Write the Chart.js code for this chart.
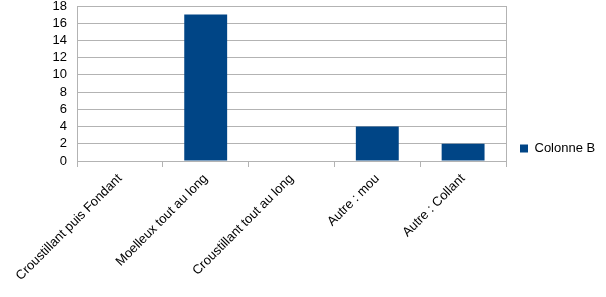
<!DOCTYPE html>
<html>
<head>
<meta charset="utf-8">
<script src="https://cdn.jsdelivr.net/npm/chart.js@4.4.0/dist/chart.umd.min.js"></script>
<style>
  html, body { margin: 0; padding: 0; background: #fff; }
  #chart { display: block; }
</style>
</head>
<body>
<canvas id="chart" width="606" height="297"></canvas>
<script>
// =====================
// Data
// =====================
const categories = [
    'Croustillant puis Fondant',
    'Moelleux tout au long',
    'Croustillant tout au long',
    'Autre : mou',
    'Autre : Collant'
];
const colonneB = [0, 17, 0, 4, 2];
const yTicks = [0, 2, 4, 6, 8, 10, 12, 14, 16, 18];

const gridColor = '#b3b3b3';
const barColor = '#004586';
const fontFamily = '"Liberation Sans", Arial, sans-serif';

// Right border of the plot area (LibreOffice style frame)
const frameRight = {
    id: 'frameRight',
    afterDraw(chart) {
        const { ctx, chartArea } = chart;
        ctx.save();
        ctx.strokeStyle = gridColor;
        ctx.lineWidth = 1;
        ctx.beginPath();
        ctx.moveTo(Math.round(chartArea.right) + 0.5, chartArea.top);
        ctx.lineTo(Math.round(chartArea.right) + 0.5, chartArea.bottom + 6);
        ctx.stroke();
        ctx.restore();
    }
};

// Fix legend width so the plot area ends where the reference does
const legendWidth = {
    id: 'legendWidth',
    beforeLayout(chart) {
        const lg = chart.legend;
        if (lg && !lg._patched) {
            const fit = lg.fit.bind(lg);
            lg.fit = function () { fit(); this.width = 100; };
            lg._patched = true;
        }
    },
    afterLayout(chart) {
        // nudge the legend up a little, like the reference
        const lg = chart.legend;
        if (lg) { lg.top -= 3; lg.bottom -= 3; }
    }
};

const ctx = document.getElementById('chart').getContext('2d');
new Chart(ctx, {
    type: 'bar',
    data: {
        labels: categories,
        datasets: [{
            label: 'Colonne B',
            data: colonneB,
            backgroundColor: barColor,
            barPercentage: 0.5,
            categoryPercentage: 1.0
        }]
    },
    options: {
        responsive: false,
        animation: false,
        layout: { padding: { top: 6, left: 0, right: 0, bottom: 0 } },
        scales: {
            x: {
                grid: {
                    display: true,
                    drawOnChartArea: false,
                    drawTicks: true,
                    tickLength: 6,
                    color: gridColor,
                    offset: true
                },
                border: { display: true, color: gridColor },
                ticks: {
                    minRotation: 45,
                    maxRotation: 45,
                    autoSkip: false,
                    padding: 4,
                    color: '#000',
                    font: { family: fontFamily, size: 13 }
                },
                afterFit(scale) { scale.height = 136; }
            },
            y: {
                min: 0,
                max: 18,
                afterBuildTicks(scale) { scale.ticks = yTicks.map(v => ({ value: v })); },
                grid: { color: gridColor, drawTicks: false },
                border: { display: true, color: gridColor },
                ticks: {
                    autoSkip: false,
                    padding: 10,
                    color: '#000',
                    font: { family: fontFamily, size: 13 }
                },
                afterFit(scale) {
                    scale.width = 77;
                    scale.paddingTop = 0;
                    scale.paddingBottom = 0;
                }
            }
        },
        plugins: {
            legend: {
                position: 'right',
                labels: {
                    boxWidth: 8,
                    boxHeight: 8,
                    padding: 14,
                    color: '#000',
                    font: { family: fontFamily, size: 13 }
                }
            },
            tooltip: { enabled: false }
        }
    },
    plugins: [frameRight, legendWidth]
});
</script>
</body>
</html>
